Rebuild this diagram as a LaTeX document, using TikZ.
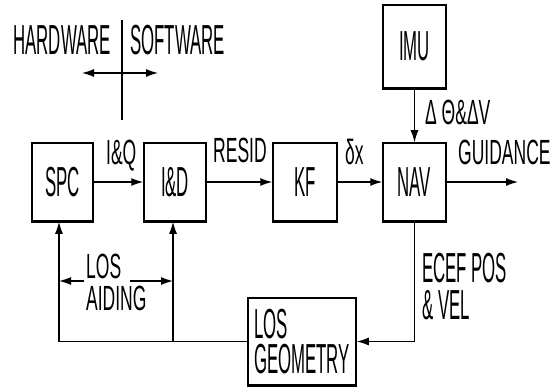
\documentclass[tikz,border=0pt]{standalone}
\usepackage{fontspec}
\setmainfont{Liberation Sans}
\newfontfamily\bigf[FakeStretch=0.40]{Liberation Sans}
\newfontfamily\smf[FakeStretch=0.50]{Liberation Sans}
\usetikzlibrary{arrows.meta}
\begin{document}
\begin{tikzpicture}[x=1pt,y=-1pt,
  blk/.style={draw, line width=1.5pt, minimum height=78pt, inner sep=0pt,
    font=\bigf\fontsize{42}{35}\selectfont, align=left},
  bigtxt/.style={inner sep=0pt, font=\bigf\fontsize{42}{35}\selectfont},
  smtxt/.style={inner sep=0pt, font=\smf\fontsize{35}{32}\selectfont},
  arr/.style={line width=1.2pt, -{Latex[length=12pt,width=8pt]}},
  dblarr/.style={line width=1.2pt, {Latex[length=12pt,width=8pt]}-{Latex[length=12pt,width=8pt]}},
  plain/.style={line width=1.2pt}]
\useasboundingbox (0,0) rectangle (553,387);
% blocks
\node[blk, minimum width=61pt] (spc) at (62.5,182) {SPC};
\node[blk, minimum width=62pt] (id) at (175,182) {I\&D};
\node[blk, minimum width=64pt] (kf) at (305,182) {KF};
\node[blk, minimum width=63pt] (nav) at (414.5,182) {NAV};
\node[blk, minimum width=63pt, minimum height=83pt] (imu) at (414.5,46.5) {IMU};
\node[blk, minimum width=108pt, minimum height=87pt] (losgeo) at (302,341.5) {LOS\\GEOMETRY};
\foreach \n in {spc,id,kf,nav,imu,losgeo}
  \draw[line width=2.6pt] (\n.south west) -- (\n.south east);
% hardware / software divider
\node[bigtxt, anchor=base east] (hw) at (111,55) {HARDWARE};
\node[bigtxt, anchor=base west] (sw) at (130,55) {SOFTWARE};
\coordinate (divT) at (122,20);
\coordinate (divB) at (122,120);
\draw[plain] (divT) -- (divB);
\coordinate (hwL) at (82,73);
\coordinate (swR) at (158,73);
\draw[dblarr] (hwL) -- (swR);
% main chain
\draw[arr] (spc) -- (id);
\draw[arr] (id) -- (kf);
\draw[arr] (kf) -- (nav);
\coordinate (guid) at (518,182);
\draw[arr] (nav) -- (guid);
\draw[arr] (imu) -- (nav);
\draw[arr] (nav) |- (losgeo);
\draw[arr] (losgeo.west) -| ([xshift=-3.5pt]spc.south);
\draw[arr] (losgeo.west) -| ([xshift=-2pt]id.south);
% labels
\node[smtxt, anchor=base west] (iq) at (106,165) {I\&Q};
\node[smtxt, anchor=base west] (resid) at (213,163) {RESID};
\node[smtxt, anchor=base west] (dx) at (345,165) {δx};
\node[smtxt, anchor=base west] (dth) at (425,125) {Δ Θ\&ΔV};
\node[smtxt, anchor=base west] (guidtxt) at (458,165) {GUIDANCE};
\node[bigtxt, anchor=base west] (ecef1) at (422,282) {ECEF POS};
\node[bigtxt, anchor=base west] (ecef2) at (422,319) {\& VEL};
% LOS aiding
\node[smtxt, anchor=base west] (los) at (86,278) {LOS};
\node[smtxt, anchor=base west] (aiding) at (86,310) {AIDING};
\coordinate (aidL) at (59,281);
\coordinate (aidA) at (84,281);
\coordinate (aidB) at (130,281);
\coordinate (aidR) at (173,281);
\draw[arr] (aidA) -- (aidL);
\draw[arr] (aidB) -- (aidR);
\end{tikzpicture}
\end{document}
